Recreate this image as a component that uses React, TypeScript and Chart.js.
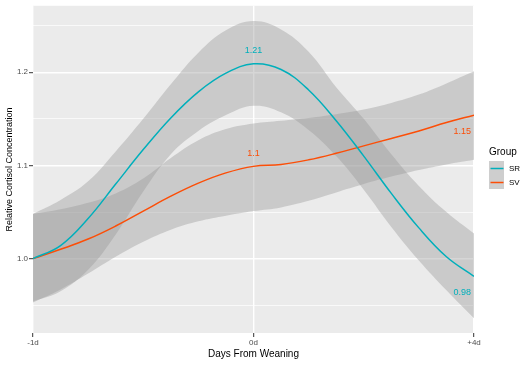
import React, { useEffect, useRef } from "react";
import { Chart, registerables } from "chart.js";

Chart.register(...registerables);

// ---- data ----
// x positions on the (evenly spaced) day axis: 0 = -1d, 1 = 0d, 2 = +4d
const dayPositions = [
  0, 0.125, 0.25, 0.375, 0.5, 0.625, 0.75, 0.875, 1, 1.125, 1.25, 1.375, 1.5,
  1.625, 1.75, 1.875, 2,
];
const xTickLabels = ["-1d", "0d", "+4d"];
const groups = ["SR", "SV"];

const srMean = [
  1.0, 1.014, 1.043, 1.08, 1.117, 1.151, 1.179, 1.199, 1.209, 1.203, 1.181,
  1.148, 1.11, 1.07, 1.033, 1.002, 0.981,
];
const srUpper = [
  1.048, 1.063, 1.083, 1.115, 1.15, 1.187, 1.221, 1.245, 1.255, 1.246, 1.222,
  1.184, 1.15, 1.112, 1.078, 1.05, 1.027,
];
const srLower = [
  0.954, 0.965, 0.988, 1.026, 1.072, 1.112, 1.137, 1.154, 1.164, 1.157, 1.138,
  1.11, 1.074, 1.034, 0.998, 0.966, 0.936,
];

const svMean = [
  1.0, 1.01, 1.021, 1.035, 1.051, 1.067, 1.081, 1.092, 1.099, 1.101, 1.106,
  1.113, 1.121, 1.129, 1.137, 1.146, 1.154,
];
const svUpper = [
  1.048, 1.053, 1.06, 1.07, 1.086, 1.108, 1.127, 1.139, 1.145, 1.148, 1.151,
  1.155, 1.16, 1.167, 1.176, 1.188, 1.201,
];
const svLower = [
  0.953, 0.967, 0.984, 1.002, 1.018, 1.031, 1.04, 1.046, 1.051, 1.055, 1.062,
  1.071, 1.08, 1.088, 1.095, 1.101, 1.106,
];

const yMajorTicks = [1.0, 1.1, 1.2];

// value labels: point index and text for each series
const srLabelIndex = [8, 16];
const srLabelText = ["1.21", "0.98"];
const svLabelIndex = [8, 16];
const svLabelText = ["1.1", "1.15"];

// ---- styles ----
const FONT = "'Liberation Sans', Arial, 'DejaVu Sans', sans-serif";
const SR_COLOR = "#00AFBB";
const SV_COLOR = "#FC4E07";
const BAND_FILL = "rgba(153,153,153,0.4)";

const isMajor = (v: number) =>
  yMajorTicks.some((m) => Math.abs(m - v) < 1e-6);

const pts = (arr: number[]) => arr.map((y, i) => ({ x: dayPositions[i], y }));

const panelBg = {
  id: "panelBg",
  beforeDraw(chart: any) {
    const { ctx, chartArea: a } = chart;
    ctx.save();
    ctx.fillStyle = "#EBEBEB";
    ctx.fillRect(a.left, a.top, a.right - a.left, a.bottom - a.top);
    ctx.restore();
  },
};

const valueLabels = {
  id: "valueLabels",
  afterDatasetsDraw(chart: any) {
    const { ctx, scales } = chart;
    const xs = scales.x;
    const ys = scales.y;
    ctx.save();
    ctx.font = `9px ${FONT}`;
    ctx.textBaseline = "middle";
    const draw = (
      series: number[],
      idx: number[],
      texts: string[],
      color: string
    ) => {
      idx.forEach((ix, k) => {
        const px = xs.getPixelForValue(dayPositions[ix]);
        const py = ys.getPixelForValue(series[ix]);
        const atEnd = ix === dayPositions.length - 1;
        ctx.fillStyle = color;
        if (atEnd) {
          ctx.textAlign = "right";
          ctx.fillText(texts[k], px - 3, py + 16);
        } else {
          ctx.textAlign = "center";
          ctx.fillText(texts[k], px, py - 13);
        }
      });
    };
    draw(srMean, srLabelIndex, srLabelText, SR_COLOR);
    draw(svMean, svLabelIndex, svLabelText, SV_COLOR);
    ctx.restore();
  },
};

const legendPlugin = {
  id: "ggLegend",
  afterDraw(chart: any) {
    const { ctx } = chart;
    const colors = [SR_COLOR, SV_COLOR];
    ctx.save();
    ctx.fillStyle = "#000000";
    ctx.font = `10px ${FONT}`;
    ctx.textAlign = "left";
    ctx.textBaseline = "middle";
    ctx.fillText("Group", 489, 152);
    groups.forEach((g, i) => {
      const top = 161 + i * 14;
      ctx.fillStyle = "#F2F2F2";
      ctx.fillRect(489, top, 15, 14);
      ctx.fillStyle = BAND_FILL;
      ctx.fillRect(489, top, 15, 14);
      ctx.strokeStyle = colors[i];
      ctx.lineWidth = 1.5;
      ctx.beginPath();
      ctx.moveTo(490.5, top + 7.5);
      ctx.lineTo(503.5, top + 7.5);
      ctx.stroke();
      ctx.fillStyle = "#000000";
      ctx.font = `8px ${FONT}`;
      ctx.fillText(g, 509, top + 7.5);
    });
    ctx.restore();
  },
};

export default function App() {
  const ref = useRef<HTMLCanvasElement | null>(null);

  useEffect(() => {
    if (!ref.current) return;
    const lineDs = (label: string, data: number[], color: string) => ({
      label,
      data: pts(data),
      borderColor: color,
      backgroundColor: color,
      borderWidth: 1.5,
      pointRadius: 0,
      fill: false,
      tension: 0.4,
    });
    const bandDs = (label: string, data: number[], fill: any) => ({
      label,
      data: pts(data),
      borderColor: "transparent",
      backgroundColor: BAND_FILL,
      borderWidth: 0,
      pointRadius: 0,
      fill,
      tension: 0.4,
    });

    const chart = new Chart(ref.current, {
      type: "line",
      data: {
        datasets: [
          lineDs("SR", srMean, SR_COLOR),
          lineDs("SV", svMean, SV_COLOR),
          bandDs("SR upper", srUpper, "+1"),
          bandDs("SR lower", srLower, false),
          bandDs("SV upper", svUpper, "+1"),
          bandDs("SV lower", svLower, false),
        ],
      },
      options: {
        responsive: false,
        animation: false,
        devicePixelRatio: 1,
        layout: { padding: { top: 3, right: 57, left: 0, bottom: 0 } },
        plugins: {
          legend: { display: false },
          tooltip: { enabled: false },
        },
        scales: {
          x: {
            type: "linear",
            min: 0,
            max: 2,
            afterFit: (s: any) => {
              s.height = 32;
            },
            ticks: {
              stepSize: 1,
              autoSkip: false,
              maxRotation: 0,
              padding: 1,
              color: "#4D4D4D",
              font: { family: FONT, size: 8 },
              callback: (v: any) => xTickLabels[Math.round(Number(v))] ?? "",
            },
            grid: {
              color: "#FFFFFF",
              lineWidth: 1.4,
              tickLength: 4,
              tickColor: "#333333",
              tickWidth: 1,
            },
            border: { display: false },
            title: {
              display: true,
              text: "Days From Weaning",
              color: "#000000",
              font: { family: FONT, size: 10 },
              padding: { top: 0, bottom: 4.5 },
            },
          },
          y: {
            type: "linear",
            min: 0.9202,
            max: 1.2713,
            afterFit: (s: any) => {
              s.width = 33;
            },
            ticks: {
              stepSize: 0.05,
              includeBounds: false,
              padding: 1,
              color: "#4D4D4D",
              font: { family: FONT, size: 8 },
              callback: (v: any) =>
                isMajor(Number(v)) ? Number(v).toFixed(1) : "",
            },
            grid: {
              color: "#FFFFFF",
              lineWidth: (c: any) => (isMajor(c.tick?.value) ? 1.4 : 0.7),
              tickLength: 4,
              tickColor: (c: any) =>
                isMajor(c.tick?.value) ? "#333333" : "rgba(0,0,0,0)",
              tickWidth: 1,
            },
            border: { display: false },
            title: {
              display: true,
              text: "Relative Cortisol Concentration",
              color: "#000000",
              font: { family: FONT, size: 9 },
              padding: { top: 4.5, bottom: 0 },
            },
          },
        },
      },
      plugins: [panelBg, valueLabels, legendPlugin],
    });
    return () => chart.destroy();
  }, []);

  return (
    <div
      style={{
        position: "fixed",
        left: 0,
        top: 0,
        width: 531,
        height: 365,
        background: "#FFFFFF",
      }}
    >
      <canvas
        ref={ref}
        width={531}
        height={365}
        style={{ display: "block", width: 531, height: 365 }}
      />
    </div>
  );
}
